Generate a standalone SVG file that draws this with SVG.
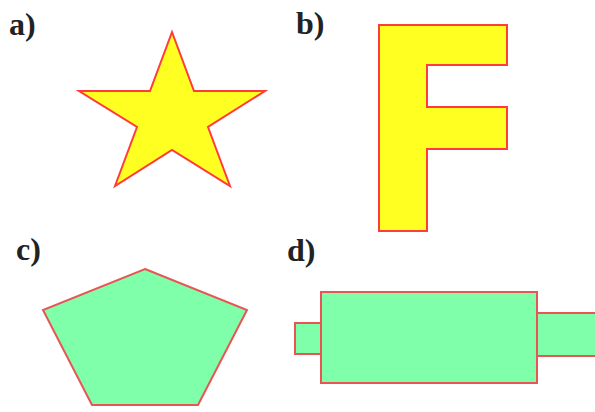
<svg xmlns="http://www.w3.org/2000/svg" width="595" height="412" viewBox="0 0 595 412">
  <style>
    .lbl { font-family: "Liberation Serif", "Times New Roman", serif; font-size: 32px; font-weight: bold; fill: #222; }
    .yel { fill: #ffff22; stroke: #ff3c3c; stroke-width: 2; stroke-linejoin: miter; }
    .grn { fill: #80ffaa; stroke: #e85555; stroke-width: 2; stroke-linejoin: miter; }
  </style>
  <rect width="595" height="412" fill="#ffffff"/>
  <g id="star">
    <text class="lbl" x="9" y="35">a)</text>
    <polygon class="yel" points="172,32 194,91 265,91 208,127 230,186 172,150 115,186 137,127 79,91 150,91"/>
  </g>
  <g id="letter-f">
    <text class="lbl" x="296" y="34">b)</text>
    <polygon class="yel" points="379,25 507,25 507,65 427,65 427,107 507,107 507,149 427,149 427,231 379,231"/>
  </g>
  <g id="pentagon">
    <text class="lbl" x="16" y="260">c)</text>
    <polygon class="grn" points="145,269 247,310 198,405 92,405 43,310"/>
  </g>
  <g id="rectangles">
    <text class="lbl" x="287" y="261">d)</text>
    <rect class="grn" x="537" y="313" width="62" height="43"/>
    <rect class="grn" x="295" y="323" width="26" height="31"/>
    <rect class="grn" x="321" y="292" width="216" height="91"/>
  </g>
</svg>
